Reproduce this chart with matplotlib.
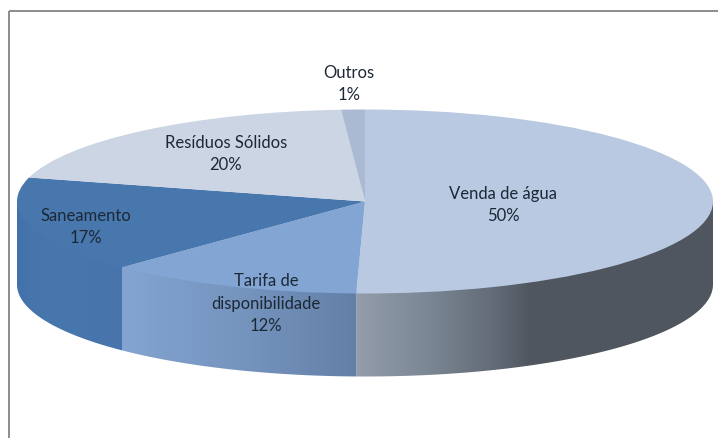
import numpy as np
import matplotlib
matplotlib.use("Agg")
import matplotlib.pyplot as plt
from matplotlib.colors import LinearSegmentedColormap
from matplotlib.patches import Polygon, Rectangle

plt.rcParams["font.family"] = ["Lato", "DejaVu Sans"]

# slice order is clockwise from 12 o'clock
labels = ["Venda de água", "Tarifa de\ndisponibilidade", "Saneamento", "Resíduos Sólidos", "Outros"]
shares = [50.4, 11.9, 16.9, 19.7, 1.1]
percents = ["50%", "12%", "17%", "20%", "1%"]
top_colors = ["#b8c9e1", "#82a5d3", "#4877ae", "#ccd5e3", "#abbad3"]

# wall colours, left to right across each visible slice: (position 0-1, colour)
wall_stops = {
    0: [(0, "#939dac"), (0.2, "#7b8794"), (0.38, "#636c78"), (0.49, "#50565f"), (1, "#50565f")],
    1: [(0, "#84a4d1"), (0.5, "#7595bf"), (1, "#647fa6")],
    2: [(0, "#4270a9"), (0.12, "#4674ab"), (0.35, "#4877ae"), (1, "#4674ab")],
}

W, H = 718, 439
cx, cy = 365, 202.5  # pie centre, px
rx, ry = 348, 92  # top ellipse radii, px
depth = 83
label_pos = [(503, 205), (266, 304), (86, 227), (226, 154), (349, 84)]

fig = plt.figure(figsize=(W / 100, H / 100), dpi=100)
bg = fig.add_axes([0, 0, 1, 1])
bg.set_xlim(0, W)
bg.set_ylim(H, 0)
bg.axis("off")
# chart frame runs off the right and bottom of the crop
bg.add_patch(Rectangle((8.7, 12), 730, 450, fill=False, edgecolor="#8c8c8c", linewidth=1.4))


def to_xy(pct, shrink=1.0):
    a = np.radians(np.asarray(pct) * 3.6)
    return cx + shrink * rx * np.sin(a), cy - shrink * ry * np.cos(a)


# side wall, only the front half (25-75% of the way round) can be seen
edges = np.concatenate([[0], np.cumsum(shares)])
for i, stops in wall_stops.items():
    lo, hi = max(edges[i], 25), min(edges[i + 1], 75)
    pcts = np.linspace(lo, hi, 120)
    x, y = to_xy(pcts)
    # top edge tucked under the pie so no seam shows along the rim
    xi, yi = to_xy(pcts, 0.97)
    verts = np.vstack([np.c_[xi, yi], [[x[-1], y[-1]]], np.c_[x, y + depth][::-1], [[x[0], y[0]]]])
    clip = Polygon(verts, closed=True, transform=bg.transData, facecolor="none", edgecolor="none")
    bg.add_patch(clip)
    cmap = LinearSegmentedColormap.from_list("wall", stops)
    grad = np.linspace(0, 1, 256).reshape(1, -1)
    im = bg.imshow(grad, cmap=cmap, aspect="auto", extent=(x.min(), x.max(), H, 0), zorder=2)
    im.set_clip_path(clip)
bg.set_xlim(0, W)
bg.set_ylim(H, 0)

# top face: a normal pie, squashed by the axes limits
top = fig.add_axes([0, 0, 1, 1])
top.patch.set_alpha(0)
top.pie(shares, colors=top_colors, startangle=90, counterclock=False, radius=1,
        wedgeprops={"linewidth": 0})
top.set_aspect("auto")
top.set_xlim(-cx / rx, (W - cx) / rx)
top.set_ylim((cy - H) / ry, cy / ry)
top.axis("off")

txt = fig.add_axes([0, 0, 1, 1])
txt.set_xlim(0, W)
txt.set_ylim(H, 0)
txt.axis("off")
for lab, pc, pos in zip(labels, percents, label_pos):
    txt.text(pos[0], pos[1], lab + "\n" + pc, ha="center", va="center", fontsize=12,
             color="#1c2836", linespacing=1.5)

fig.savefig("out.png", dpi=100)
